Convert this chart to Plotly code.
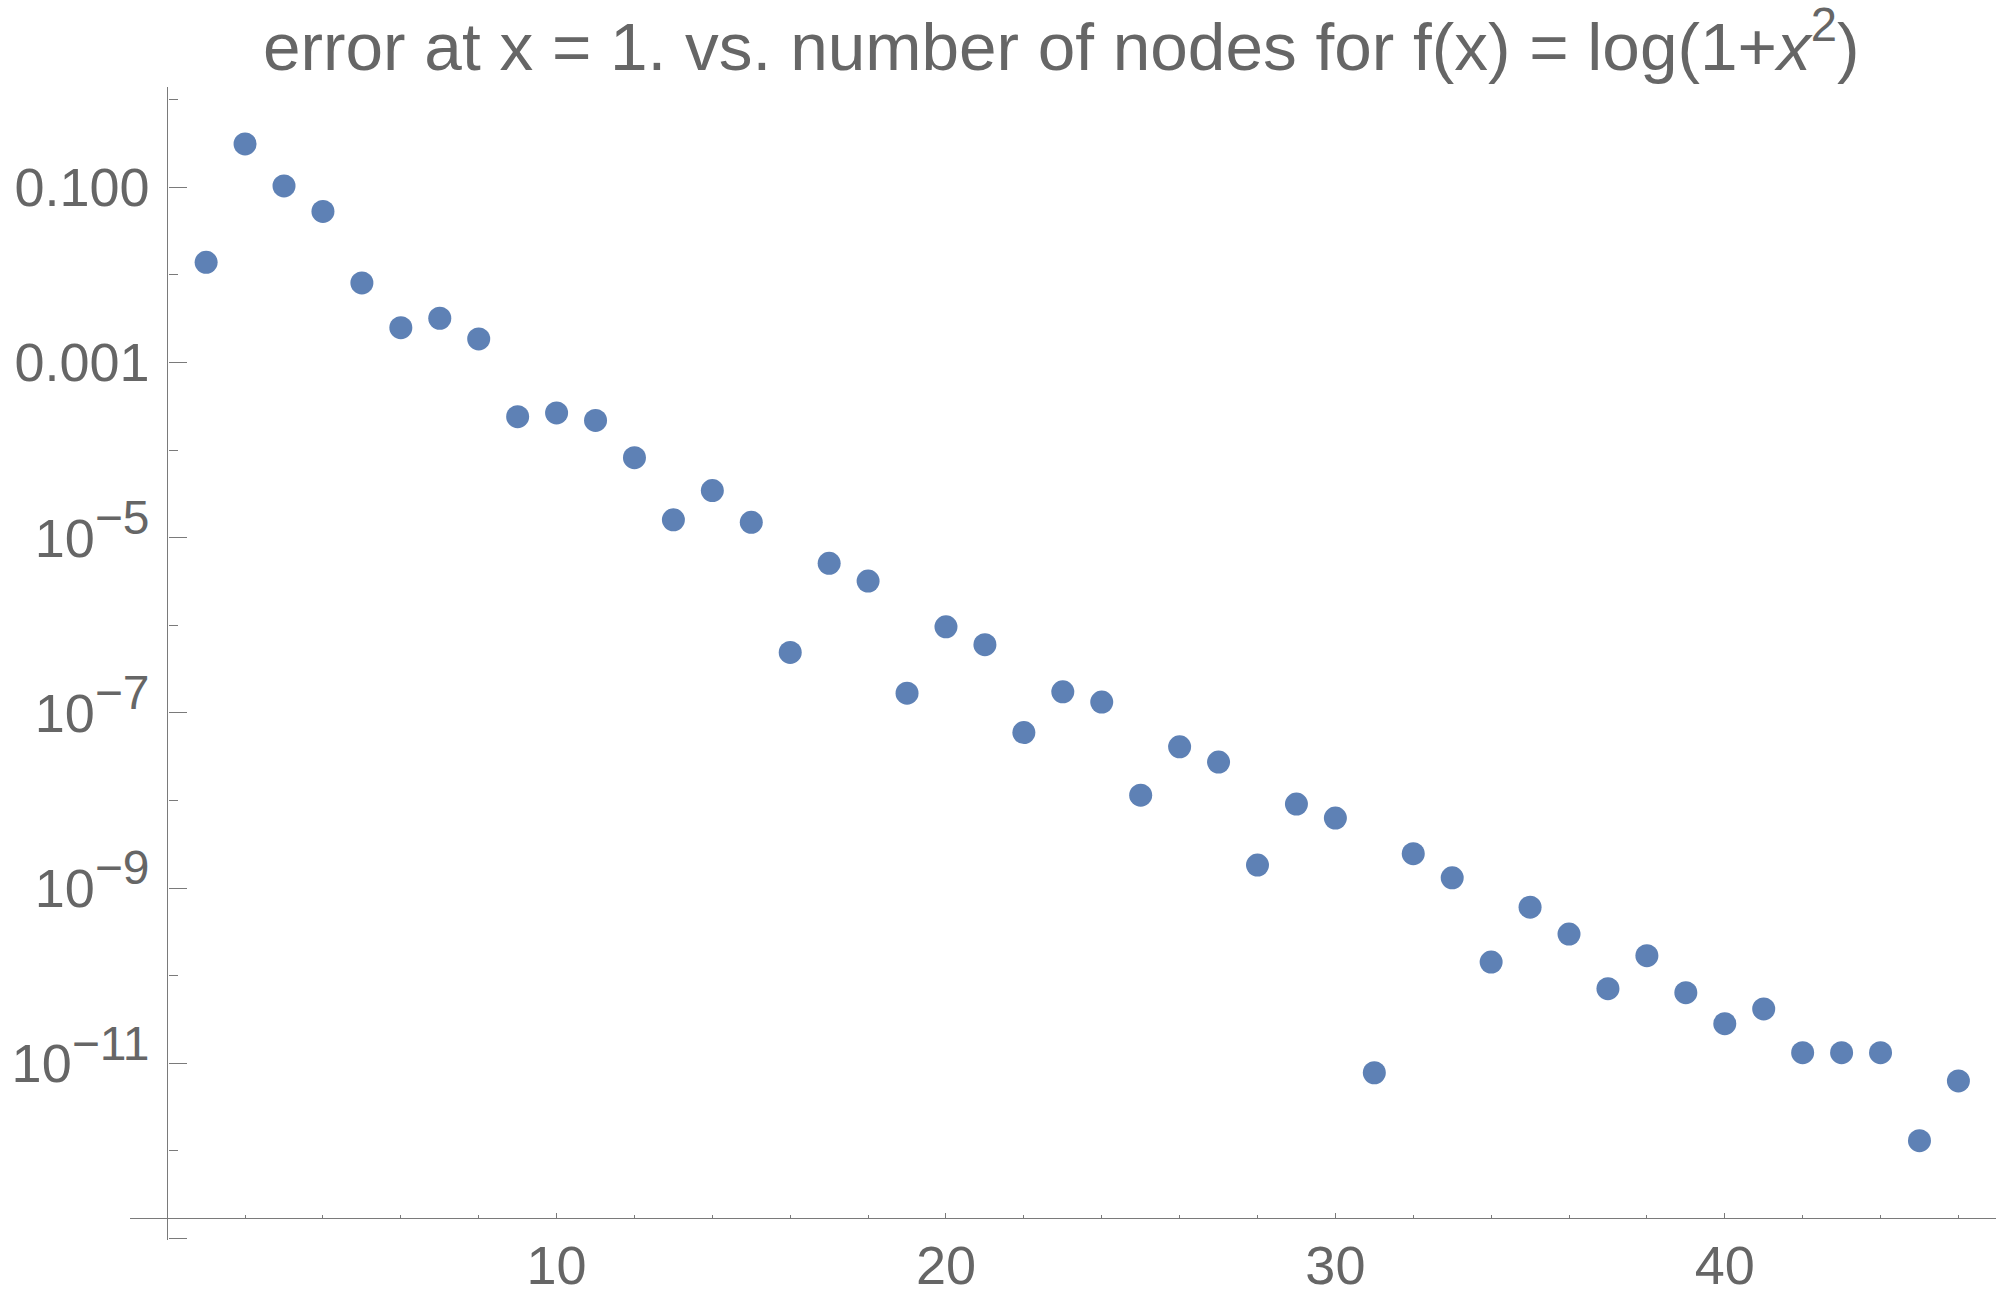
import plotly.graph_objects as go

# ---- data ----
nodes = list(range(1, 47))
errors = [
    1.39e-2, 0.313, 0.1035, 0.053, 8.1e-3, 2.5e-3, 3.2e-3, 1.86e-3,
    2.41e-4, 2.66e-4, 2.18e-4, 8.2e-5, 1.6e-5, 3.45e-5, 1.5e-5, 4.9e-7,
    5.1e-6, 3.2e-6, 1.68e-7, 9.6e-7, 6.0e-7, 5.96e-8, 1.74e-7, 1.33e-7,
    1.15e-8, 4.1e-8, 2.75e-8, 1.83e-9, 9.1e-9, 6.3e-9, 7.8e-12, 2.47e-9,
    1.31e-9, 1.43e-10, 6.05e-10, 2.99e-10, 7.1e-11, 1.69e-10, 6.4e-11, 2.83e-11,
    4.17e-11, 1.32e-11, 1.32e-11, 1.32e-11, 1.31e-12, 6.3e-12,
]

y_major_vals = [0.1, 1e-3, 1e-5, 1e-7, 1e-9, 1e-11, 1e-13]
y_major_exps = [None, None, 5, 7, 9, 11, None]
y_minor_vals = [1, 1e-2, 1e-4, 1e-6, 1e-8, 1e-10, 1e-12]
x_major_vals = [10, 20, 30, 40]
x_minor_vals = [2, 4, 6, 8, 12, 14, 16, 18, 22, 24, 26, 28, 32, 34, 36, 38, 42, 44, 46]

title_text = "error at x = 1. vs. number of nodes for f(x) = log(1+<i>x</i><sup>2</sup>)"

AXIS_COLOR = "#7a7a7a"
TEXT_COLOR = "#666666"
FONT = "Liberation Sans, Arial, sans-serif"
TICK_SIZE = 54


def y_label(v, e):
    if v == 1e-13:
        return ""
    if e is None:
        return "%.3f" % v
    return "10<sup><span style='font-size:48px'>\u2212%d</span></sup>" % e


y_major_text = [y_label(v, e) for v, e in zip(y_major_vals, y_major_exps)]

fig = go.Figure()
fig.add_trace(go.Scatter(
    x=nodes, y=errors, mode="markers",
    marker=dict(color="#5E81B5", size=23, line=dict(width=0)),
    hoverinfo="x+y", showlegend=False,
))

W, H = 2000, 1300
L_PX, R_PX, T_PX, B_PX = 129.5, 1996, 87, 1240
x0_px, x_unit = 166.7, 38.95
x_range = [(L_PX - x0_px) / x_unit, (R_PX - x0_px) / x_unit]
y_ref_px, dec_px = 187.3, 87.6
y_range = [-1 - (B_PX - y_ref_px) / dec_px, -1 - (T_PX - y_ref_px) / dec_px]

xaxis_pos = (B_PX - 1218) / (B_PX - T_PX)
yaxis_pos = (167 - L_PX) / (R_PX - L_PX)

fig.update_layout(
    width=W, height=H,
    margin=dict(l=L_PX, r=W - R_PX, t=T_PX, b=H - B_PX, pad=0, autoexpand=False),
    paper_bgcolor="white", plot_bgcolor="white",
    font=dict(family=FONT, color=TEXT_COLOR, size=TICK_SIZE),
    title=dict(text=title_text, font=dict(size=67.5, color=TEXT_COLOR, family=FONT),
               x=(1061 - L_PX) / (R_PX - L_PX), xref="paper", xanchor="center",
               y=1 - 46 / H, yref="container", yanchor="middle", automargin=False),
    xaxis=dict(
        range=x_range, anchor="free", position=xaxis_pos, automargin=False,
        showgrid=False, zeroline=False, showline=True, linecolor=AXIS_COLOR, linewidth=1.3,
        tickmode="array", tickvals=x_major_vals, ticktext=[str(v) for v in x_major_vals],
        ticks="inside", ticklen=5, tickwidth=1.2, tickcolor=AXIS_COLOR,
        tickfont=dict(size=TICK_SIZE, color=TEXT_COLOR, family=FONT),
        ticklabelstandoff=0,
        minor=dict(tickvals=x_minor_vals, ticks="inside", ticklen=2.5, tickwidth=1, tickcolor=AXIS_COLOR),
    ),
    yaxis=dict(
        type="log", range=y_range, anchor="free", position=yaxis_pos, automargin=False,
        showgrid=False, zeroline=False, showline=True, linecolor=AXIS_COLOR, linewidth=1.3,
        tickmode="array", tickvals=y_major_vals, ticktext=y_major_text,
        ticks="inside", ticklen=18, tickwidth=1.2, tickcolor=AXIS_COLOR,
        tickfont=dict(size=TICK_SIZE, color=TEXT_COLOR, family=FONT),
        ticklabelstandoff=7,
        minor=dict(tickvals=y_minor_vals, ticks="inside", ticklen=9, tickwidth=1, tickcolor=AXIS_COLOR),
    ),
)

fig.write_html("out.html", config={"displayModeBar": False},
               post_script="document.body.style.margin='0';document.body.style.overflow='hidden';")
